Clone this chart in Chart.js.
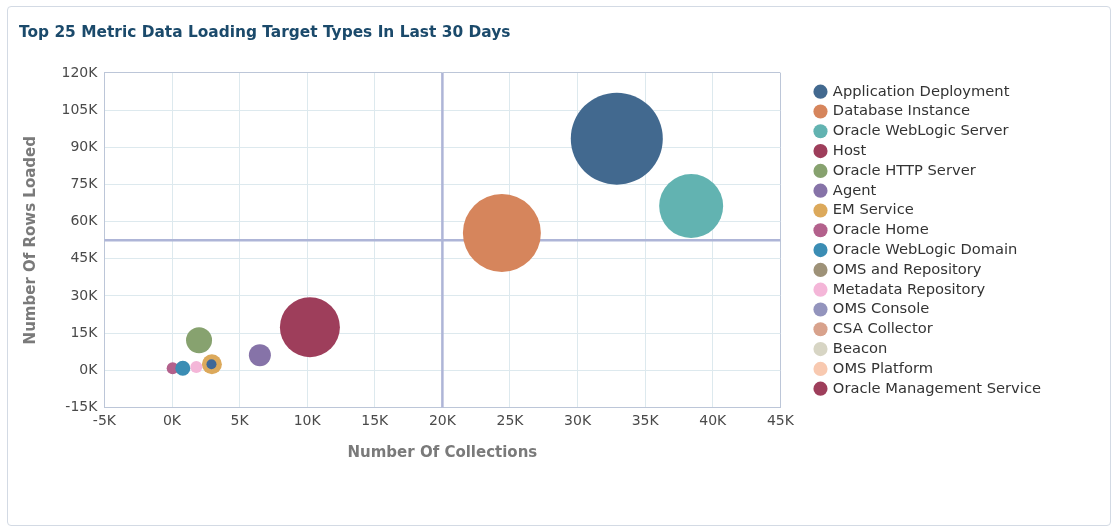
<!DOCTYPE html>
<html>
<head>
<meta charset="utf-8">
<script src="https://cdn.jsdelivr.net/npm/chart.js@4.4.1/dist/chart.umd.min.js"></script>
<style>
  body { margin: 0; background: #fff; }
  .panel { position: absolute; left: 7px; top: 6px; width: 1102px; height: 518px; border: 1px solid #d3dae4; border-radius: 4px; }
  #wrap { position: absolute; left: 0; top: 0; width: 1118px; height: 529px; }
</style>
</head>
<body>
<div class="panel"></div>
<div id="wrap"><canvas id="bubbleChart" width="1118" height="529"></canvas></div>
<script>
// target types, in legend order
const targetTypes = ['Application Deployment', 'Database Instance', 'Oracle WebLogic Server', 'Host',
  'Oracle HTTP Server', 'Agent', 'EM Service', 'Oracle Home', 'Oracle WebLogic Domain',
  'OMS and Repository', 'Metadata Repository', 'OMS Console', 'CSA Collector', 'Beacon',
  'OMS Platform', 'Oracle Management Service'];
const collections = [32900, 24400, 38400, 10200, 2000, 6500, 2950, 50, 800, 800, 1800, 800, 800, 800, 800, 800];
const rowsLoaded = [93500, 55400, 66300, 17400, 12100, 6100, 2400, 800, 800, 800, 1300, 800, 800, 800, 800, 800];
const bubbleSize = [46, 39, 32, 30, 13, 11, 10, 6, 7.5, 3, 6, 3, 3, 3, 3, 3];
const seriesColors = ['#42698f', '#d6855c', '#62b3b1', '#9e3e5b', '#87a26f', '#8673a8', '#dca95b', '#b3618c',
  '#3b8db4', '#9e9278', '#f4b6d8', '#9394bd', '#d8a28c', '#d7d5c4', '#f8c9b0', '#9e3e5b'];
const hiddenBelow = [9, 11, 12, 13, 14, 15]; // covered by the small bubbles near 0

// small dark bubble sitting on top of EM Service
const extraPoint = { x: 2920, y: 2400, r: 5 };

// axes
const xMin = -5000, xMax = 45000, xStep = 5000;
const yMin = -15000, yMax = 120000, yStep = 15000;
// reference cross lines
const refX = 20000, refY = 52500;

const gridColor = '#dde9ee';
const edgeColor = '#bcc6d8';

const datasets = targetTypes.map((name, i) => ({
  label: name,
  data: [{ x: collections[i], y: rowsLoaded[i], r: bubbleSize[i] }],
  backgroundColor: seriesColors[i],
  borderWidth: 0,
  order: hiddenBelow.includes(i) ? 50 : -i
}));
datasets.push({
  label: '',
  data: [extraPoint],
  backgroundColor: '#3f6898',
  borderWidth: 0,
  order: -30
});

const crossLines = {
  id: 'crossLines',
  beforeDatasetsDraw(chart) {
    const { ctx, chartArea: a, scales: { x, y } } = chart;
    const px = x.getPixelForValue(refX);
    const py = y.getPixelForValue(refY);
    ctx.save();
    ctx.strokeStyle = '#aeb5d7';
    ctx.lineWidth = 2.5;
    ctx.beginPath();
    ctx.moveTo(px, a.top); ctx.lineTo(px, a.bottom);
    ctx.moveTo(a.left, py); ctx.lineTo(a.right, py);
    ctx.stroke();
    ctx.restore();
  }
};

const kLabel = v => (v / 1000) + 'K';

Chart.defaults.font.family = '"DejaVu Sans", sans-serif';

new Chart(document.getElementById('bubbleChart'), {
  type: 'bubble',
  data: { datasets },
  plugins: [crossLines],
  options: {
    responsive: false,
    animation: false,
    layout: { padding: { left: 19, right: 67, top: 0, bottom: 63 } },
    scales: {
      x: {
        type: 'linear', min: xMin, max: xMax,
        ticks: { stepSize: xStep, callback: kLabel, color: '#4a4a4a', font: { size: 14 }, padding: 6, maxRotation: 0 },
        grid: { drawTicks: false, color: c => (c.tick && (c.tick.value === xMin || c.tick.value === xMax)) ? edgeColor : gridColor },
        border: { color: edgeColor },
        title: { display: true, text: 'Number Of Collections', color: '#7a7a7a', font: { size: 15, weight: 'bold' }, padding: { top: 7.8, bottom: 4 } }
      },
      y: {
        type: 'linear', min: yMin, max: yMax,
        ticks: { stepSize: yStep, callback: kLabel, color: '#4a4a4a', font: { size: 14 }, padding: 7 },
        grid: { drawTicks: false, color: c => (c.tick && (c.tick.value === yMin || c.tick.value === yMax)) ? edgeColor : gridColor },
        border: { color: edgeColor },
        title: { display: true, text: 'Number Of Rows Loaded', color: '#7a7a7a', font: { size: 15, weight: 'bold' }, padding: { top: 3, bottom: 14.5 } }
      },
      gap: {
        position: 'right', display: true,
        grid: { display: false }, ticks: { display: false }, border: { display: false },
        afterFit(scale) { scale.width = 30; }
      }
    },
    plugins: {
      title: {
        display: true, align: 'start',
        text: 'Top 25 Metric Data Loading Target Types In Last 30 Days',
        color: '#1b4a6b', font: { size: 15.4, weight: 'bold' },
        padding: { top: 23.7, bottom: 30.8 }
      },
      legend: {
        position: 'right', align: 'center', fullSize: false, maxWidth: 270,
        labels: {
          usePointStyle: true, pointStyle: 'circle', boxWidth: 10, boxHeight: 10,
          padding: 5.1, color: '#333', font: { size: 14.7 },
          filter: item => item.text !== '',
          sort: (a, b) => a.datasetIndex - b.datasetIndex
        }
      },
      tooltip: { enabled: false }
    }
  }
});
</script>
</body>
</html>
